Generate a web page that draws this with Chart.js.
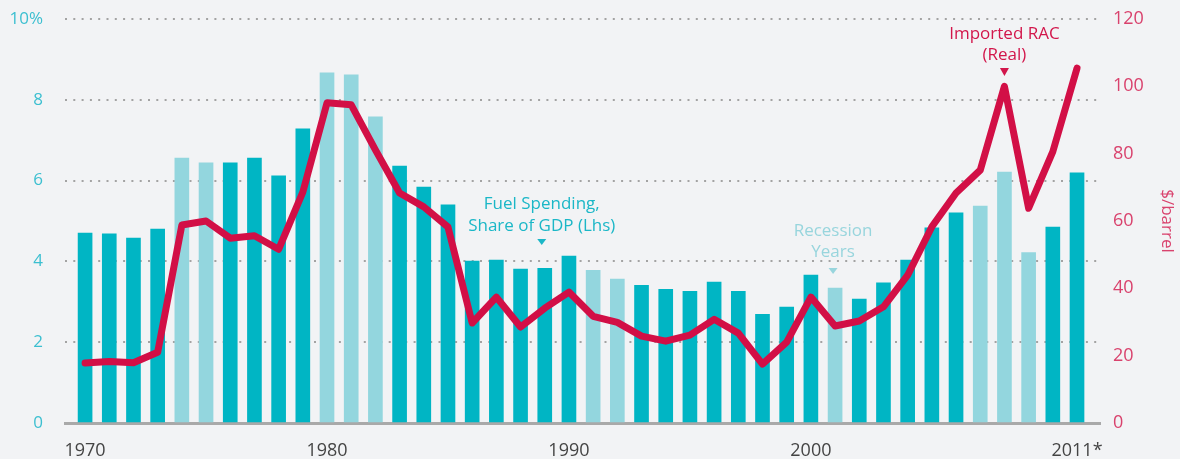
<!DOCTYPE html>
<html>
<head>
<meta charset="utf-8">
<script src="https://cdn.jsdelivr.net/npm/chart.js@4.4.1/dist/chart.umd.min.js"></script>
<style>
  html, body { margin: 0; padding: 0; background: #f2f3f5; }
  #wrap { width: 1180px; height: 459px; position: relative; }
</style>
</head>
<body>
<div id="wrap"><canvas id="c"></canvas></div>
<script>
// ---- data ----
const years = [1970,1971,1972,1973,1974,1975,1976,1977,1978,1979,
               1980,1981,1982,1983,1984,1985,1986,1987,1988,1989,
               1990,1991,1992,1993,1994,1995,1996,1997,1998,1999,
               2000,2001,2002,2003,2004,2005,2006,2007,2008,2009,2010,2011];
const fuelShare = [4.70,4.68,4.58,4.80,6.56,6.44,6.44,6.56,6.12,7.28,
                   8.67,8.62,7.58,6.36,5.84,5.40,4.01,4.03,3.81,3.83,
                   4.13,3.78,3.56,3.41,3.31,3.26,3.49,3.26,2.69,2.87,
                   3.66,3.34,3.07,3.47,4.03,4.83,5.20,5.37,6.21,4.22,4.85,6.19];
const racReal = [17.8,18.3,17.9,21.0,58.8,60.0,54.9,55.6,51.6,68.6,
                 95.1,94.5,81.1,68.3,64.2,58.2,29.7,37.4,28.5,34.1,
                 38.9,31.7,29.9,25.8,24.3,26.1,30.8,26.7,17.5,24.0,
                 37.4,28.8,30.3,34.5,43.9,58.3,68.3,75.1,100.0,63.8,80.6,105.4];
const recessionYears = [1974,1975,1980,1981,1982,1991,1992,2001,2007,2008,2009];
const xTickYears = [1970,1980,1990,2000,2011];
const xTickText = ['1970','1980','1990','2000','2011*'];
const leftTicks = [0,2,4,6,8,10];
const rightTicks = [0,20,40,60,80,100,120];

const FONT = '"Open Sans", "Noto Sans", sans-serif';
const DARK = '#00b5c4';
const LIGHT = '#93d6de';
const RED = '#d20f46';

const barPoints = years.map((y, i) => ({ x: y, y: fuelShare[i] }));
const linePoints = years.map((y, i) => ({ x: y, y: racReal[i] }));
const barColors = years.map(y => recessionYears.includes(y) ? LIGHT : DARK);

const annotations = {
  id: 'annotations',
  afterDatasetsDraw(chart) {
    const { ctx, scales } = chart;
    const xs = scales.x;
    const items = [
      { x: xs.getPixelForValue(2008), lines: ['Imported RAC', '(Real)'], base: 39, step: 21, color: '#d2164b', tri: 68, th: 8 },
      { x: xs.getPixelForValue(1989) - 3, lines: ['Fuel Spending,', 'Share of GDP (Lhs)'], base: 209, step: 22, color: '#1bb7c7', tri: 239, th: 6 },
      { x: xs.getPixelForValue(2001) - 2, lines: ['Recession', 'Years'], base: 236, step: 21, color: '#98d5dd', tri: 268, th: 6 }
    ];
    ctx.save();
    ctx.font = '17px ' + FONT;
    ctx.textAlign = 'center';
    ctx.textBaseline = 'alphabetic';
    items.forEach(it => {
      ctx.fillStyle = it.color;
      it.lines.forEach((t, k) => ctx.fillText(t, it.x, it.base + k * it.step));
      ctx.beginPath();
      ctx.moveTo(it.x - 4.5, it.tri);
      ctx.lineTo(it.x + 4.5, it.tri);
      ctx.lineTo(it.x, it.tri + it.th);
      ctx.closePath();
      ctx.fill();
    });
    ctx.restore();
  }
};

new Chart(document.getElementById('c'), {
  data: {
    datasets: [
      {
        type: 'line',
        data: linePoints,
        yAxisID: 'y2',
        borderColor: RED,
        borderWidth: 7,
        borderJoinStyle: 'round',
        borderCapStyle: 'round',
        pointRadius: 0,
        tension: 0,
        order: 0
      },
      {
        type: 'bar',
        data: barPoints,
        yAxisID: 'y',
        backgroundColor: barColors,
        borderWidth: 0,
        barThickness: 14,
        order: 1
      }
    ]
  },
  plugins: [annotations],
  options: {
    responsive: true,
    maintainAspectRatio: false,
    animation: false,
    layout: { padding: { top: 19, left: 0, right: 0, bottom: 0 } },
    plugins: { legend: { display: false }, tooltip: { enabled: false } },
    scales: {
      x: {
        type: 'linear',
        position: 'bottom',
        offset: false,
        min: 1969.17,
        max: 2011.95,
        afterFit(s) { s.height = 36; s.paddingLeft = 0; s.paddingRight = 0; },
        afterBuildTicks(s) { s.ticks = xTickYears.map(v => ({ value: v })); },
        grid: { display: false, drawTicks: false, offset: false },
        border: { display: true, color: '#a9a9a9', width: 3 },
        ticks: {
          padding: 17,
          maxRotation: 0,
          autoSkip: false,
          color: '#444444',
          font: { family: FONT, size: 18 },
          callback: v => xTickText[xTickYears.indexOf(v)]
        }
      },
      y: {
        position: 'left',
        min: 0,
        max: 10,
        afterFit(s) { s.width = 65; s.paddingTop = 0; s.paddingBottom = 0; },
        afterBuildTicks(s) { s.ticks = leftTicks.map(v => ({ value: v })); },
        border: { display: false, dash: [2, 6.3] },
        grid: {
          drawTicks: false,
          lineWidth: 2,
          color: c => (c.tick && c.tick.value === 0) ? 'rgba(0,0,0,0)' : '#a3a3a3'
        },
        ticks: {
          padding: 22,
          color: '#3cbfd0',
          font: { family: FONT, size: 17 },
          callback: v => v === 10 ? '10%' : String(v)
        }
      },
      y2: {
        position: 'right',
        min: 0,
        max: 120,
        afterFit(s) { s.width = 80; s.paddingTop = 0; s.paddingBottom = 0; },
        afterBuildTicks(s) { s.ticks = rightTicks.map(v => ({ value: v })); },
        border: { display: false },
        grid: { drawOnChartArea: false, drawTicks: false },
        ticks: {
          padding: 13,
          color: '#d9426d',
          font: { family: FONT, size: 18 },
          callback: v => String(v)
        },
        title: {
          display: true,
          text: '$/barrel',
          color: '#d9426d',
          font: { family: FONT, size: 17 },
          padding: { top: 3, bottom: 3 }
        }
      }
    }
  }
});
</script>
</body>
</html>
